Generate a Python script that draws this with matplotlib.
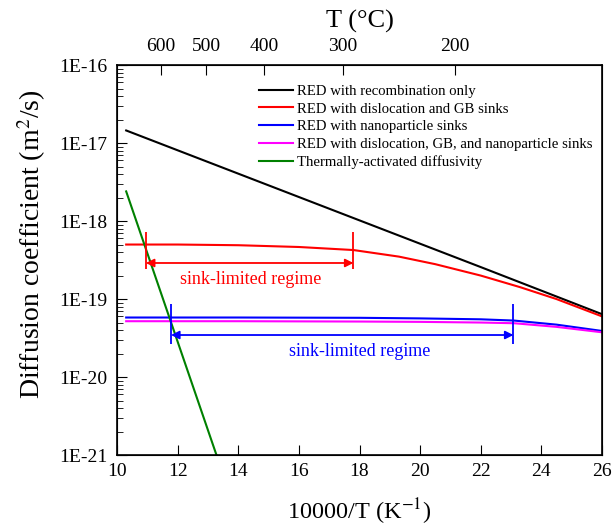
import matplotlib.pyplot as plt
import numpy as np

plt.rcParams['font.family'] = ['Liberation Serif', 'DejaVu Serif']
plt.rcParams['mathtext.fontset'] = 'stix'

# data (x = 10000/T)
x_black = [10.3, 14.0, 18.0, 22.0, 26.0]
y_black = [1.45e-17, 4.05e-18, 1.02e-18, 2.57e-19, 6.4e-20]

x_red = [10.3, 12.0, 14.0, 16.0, 17.8, 19.3, 20.5, 22.0, 23.3, 24.5, 26.0]
y_red = [5.0e-19, 5.0e-19, 4.9e-19, 4.65e-19, 4.25e-19, 3.5e-19, 2.8e-19, 2.0e-19, 1.42e-19, 1.0e-19, 6.0e-20]

x_blue = [10.3, 14.0, 18.0, 20.0, 22.0, 23.1, 24.5, 26.0]
y_blue = [5.8e-20, 5.8e-20, 5.75e-20, 5.65e-20, 5.5e-20, 5.3e-20, 4.7e-20, 3.9e-20]

x_mag = [10.3, 14.0, 18.0, 20.0, 22.0, 23.1, 24.5, 26.0]
y_mag = [5.2e-20, 5.2e-20, 5.15e-20, 5.1e-20, 5.0e-20, 4.9e-20, 4.4e-20, 3.75e-20]

x_green = [10.3, 13.28]
y_green = [2.4e-18, 1.0e-21]

labels = ['RED with recombination only',
          'RED with dislocation and GB sinks',
          'RED with nanoparticle sinks',
          'RED with dislocation, GB, and nanoparticle sinks',
          'Thermally-activated diffusivity']

top_T = [600, 500, 400, 300, 200]

fig = plt.figure(figsize=(6.13, 5.31), dpi=100)
ax = fig.add_axes([0.191, 0.143, 0.791, 0.7345])

ax.plot(x_black, y_black, color='black', lw=1.5, label=labels[0])
ax.plot(x_red, y_red, color='red', lw=1.5, label=labels[1])
ax.plot(x_blue, y_blue, color='blue', lw=1.5, label=labels[2])
ax.plot(x_mag, y_mag, color='magenta', lw=1.5, label=labels[3])
ax.plot(x_green, y_green, color='green', lw=1.5, label=labels[4])

ax.set_yscale('log')
ax.set_xlim(10, 26)
ax.set_ylim(1e-21, 1e-16)
ax.set_xticks(np.arange(10, 27, 2))
ax.set_yticks([1e-21, 1e-20, 1e-19, 1e-18, 1e-17, 1e-16])
ax.set_yticklabels(['1E-21', '1E-20', '1E-19', '1E-18', '1E-17', '1E-16'])
ax.tick_params(axis='both', which='major', direction='in', length=7, labelsize=14, top=False, right=False)
ax.tick_params(axis='y', which='major', pad=7)
ax.tick_params(axis='x', which='major', pad=6)
ax.tick_params(axis='y', which='minor', direction='in', length=4, right=False)
ax.tick_params(axis='x', which='minor', bottom=False)
ax.set_xlabel('10000/T (K$^{-1}$)', fontsize=17.5, labelpad=12)
ax.set_ylabel('Diffusion coefficient (m$^2$/s)', fontsize=20, labelpad=8)
ax.yaxis.label.set_y(0.54)
for s in ax.spines.values():
    s.set_linewidth(1.2)

# sink-limited regime markers
ax.vlines([10.95, 17.8], 2.4e-19, 7.2e-19, color='red', lw=1.3)
ax.annotate('', xy=(10.95, 2.9e-19), xytext=(17.8, 2.9e-19),
            arrowprops=dict(arrowstyle='<|-|>', color='red', lw=1.3, shrinkA=0, shrinkB=0, mutation_scale=12))
ax.text(14.4, 1.8e-19, 'sink-limited regime', color='red', fontsize=13, ha='center', va='center')

ax.vlines([11.78, 23.08], 2.66e-20, 8.6e-20, color='blue', lw=1.3)
ax.annotate('', xy=(11.78, 3.46e-20), xytext=(23.08, 3.46e-20),
            arrowprops=dict(arrowstyle='<|-|>', color='blue', lw=1.3, shrinkA=0, shrinkB=0, mutation_scale=12))
ax.text(18.0, 2.1e-20, 'sink-limited regime', color='blue', fontsize=13, ha='center', va='center')

leg = ax.legend(loc='upper left', bbox_to_anchor=(0.28, 0.965), frameon=False, fontsize=10.6,
                handlelength=2.3, handletextpad=0.3, labelspacing=0.3, borderaxespad=0)

# top axis in degrees C
ax2 = ax.twiny()
ax2.set_xlim(ax.get_xlim())
ax2.set_xticks([10000.0 / (t + 273.15) for t in top_T])
ax2.set_xticklabels([str(t) for t in top_T])
ax2.tick_params(axis='x', direction='in', length=7, labelsize=14, pad=7)
ax2.set_xlabel('T (°C)', fontsize=19, labelpad=8)

fig.savefig('out.png', dpi=100)
